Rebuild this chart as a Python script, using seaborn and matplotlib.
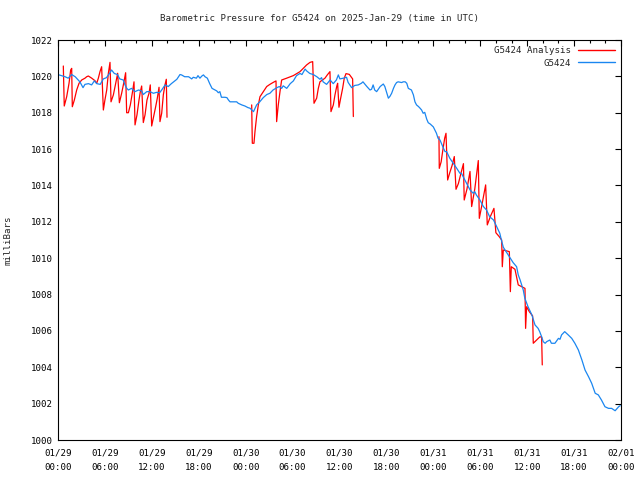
"""
Barometric pressure chart for station G5424 (gnuplot-style look)
"""
import matplotlib
matplotlib.use('Agg')
import matplotlib.pyplot as plt
import matplotlib.dates as mdates
import pandas as pd
import seaborn as sns

START = pd.Timestamp('2025-01-29 00:00')
END = pd.Timestamp('2025-02-01 00:00')

# Station observations: hours since 01/29 00:00 UTC, pressure in mb
obs_hours = [0.13, 0.9, 1.3, 1.75, 2.2, 2.8, 3.2, 3.45, 3.9, 4.3, 4.65, 4.95, 5.4, 5.8,
             6.2, 6.65, 6.85, 7.2, 7.6, 7.9, 8.35, 8.57, 8.8, 9.0, 9.4, 9.85, 10.3, 10.7,
             10.9, 11.35, 11.75, 12.2, 12.6, 13.0, 13.26, 13.7, 14.1, 14.5, 14.96, 15.2,
             15.6, 15.8, 16.2, 16.7, 17.1, 17.3, 17.7, 17.9, 18.15, 18.4, 18.6, 18.8,
             19.1, 19.4, 19.7, 20.1, 20.3, 20.5, 20.7, 20.9, 21.35, 21.6, 21.8, 22.0,
             22.4, 22.85, 23.05, 23.5, 23.9, 24.3, 24.55, 25.0, 25.4, 25.8, 26.25, 26.7,
             27.1, 27.5, 28.0, 28.3, 28.6, 28.8, 29.25, 29.7, 30.1, 30.5, 30.95, 31.2,
             31.6, 31.8, 32.2, 32.65, 33.1, 33.5, 33.7, 33.9, 34.35, 34.8, 35.2, 35.6,
             35.85, 36.05, 36.5, 36.9, 37.1, 37.55, 37.95, 38.4, 38.8, 39.0, 39.5, 39.9,
             40.1, 40.3, 40.5, 40.75, 41.2, 41.6, 41.8, 42.0, 42.25, 42.45, 42.67, 42.9,
             43.1, 43.3, 43.5, 43.95, 44.15, 44.4, 44.6, 44.8, 45.2, 45.45, 45.65, 45.85,
             46.1, 46.3, 46.5, 46.7, 46.9, 47.15, 47.35, 47.6, 47.8, 48.0, 48.2, 48.4,
             48.6, 48.85, 49.3, 49.5, 49.7, 49.9, 50.1, 50.55, 50.98, 51.4, 51.6, 51.8,
             52.25, 52.7, 53.1, 53.3, 53.5, 53.96, 54.4, 54.8, 55.2, 55.7, 56.1, 56.5,
             56.7, 56.95, 57.4, 57.8, 58.2, 58.65, 58.86, 59.1, 59.5, 59.7, 60.1, 60.6,
             60.8, 61.0, 61.4, 61.6, 61.85, 62.05, 62.3, 62.5, 62.9, 63.1, 63.55, 64.0,
             64.2, 64.4, 64.8, 65.25, 65.7, 66.1, 66.55, 67.0, 67.4, 67.85, 68.25, 68.7,
             69.1, 69.5, 69.95, 70.4, 70.8, 71.25, 71.7, 71.9]
obs_mb = [1020.08, 1019.98, 1019.9, 1020.1, 1019.98, 1019.7, 1019.38, 1019.56, 1019.6,
          1019.53, 1019.75, 1019.6, 1019.56, 1019.86, 1019.93, 1020.2, 1020.35, 1020.16,
          1020.1, 1019.86, 1019.8, 1019.53, 1019.34, 1019.25, 1019.34, 1019.16, 1019.25,
          1019.2, 1019.0, 1019.16, 1019.16, 1019.07, 1019.12, 1019.1, 1019.25, 1019.53,
          1019.44, 1019.6, 1019.76, 1019.84, 1020.1, 1020.08, 1019.98, 1019.98, 1019.86,
          1019.95, 1019.9, 1020.04, 1019.9, 1020.02, 1020.08, 1019.98, 1019.9, 1019.6,
          1019.34, 1019.25, 1019.2, 1019.1, 1019.16, 1018.85, 1018.85, 1018.83, 1018.7,
          1018.6, 1018.6, 1018.6, 1018.52, 1018.43, 1018.37, 1018.28, 1018.25, 1018.06,
          1018.43, 1018.6, 1018.83, 1019.0, 1019.07, 1019.25, 1019.38, 1019.44, 1019.34,
          1019.48, 1019.34, 1019.6, 1019.75, 1020.04, 1020.16, 1020.1, 1020.4, 1020.3,
          1020.16, 1020.1, 1019.98, 1019.84, 1019.93, 1019.7, 1019.56, 1019.8, 1019.6,
          1019.8, 1020.08, 1019.86, 1019.9, 1019.95, 1019.67, 1019.38, 1019.5, 1019.53,
          1019.62, 1019.7, 1019.44, 1019.25, 1019.29, 1019.53, 1019.25, 1019.16, 1019.44,
          1019.58, 1019.44, 1019.16, 1018.8, 1018.9, 1019.07, 1019.34, 1019.53, 1019.66,
          1019.7, 1019.66, 1019.7, 1019.7, 1019.62, 1019.34, 1019.25, 1018.98, 1018.6,
          1018.43, 1018.34, 1018.25, 1018.15, 1017.97, 1018.02, 1017.65, 1017.45, 1017.38,
          1017.3, 1017.22, 1017.05, 1016.87, 1016.6, 1016.5, 1016.04, 1015.86, 1015.86,
          1015.68, 1015.5, 1015.22, 1014.95, 1014.67, 1014.67, 1014.49, 1014.12, 1013.75,
          1013.57, 1013.66, 1013.48, 1013.2, 1012.84, 1012.65, 1012.28, 1012.1, 1011.73,
          1011.37, 1011.0, 1010.6, 1010.3, 1010.04, 1009.76, 1009.53, 1009.08, 1008.8,
          1008.25, 1007.8, 1007.34, 1006.88, 1006.6, 1006.33, 1006.14, 1005.96, 1005.68,
          1005.41, 1005.32, 1005.41, 1005.5, 1005.32, 1005.32, 1005.59, 1005.54, 1005.78,
          1005.96, 1005.78, 1005.59, 1005.32, 1004.95, 1004.4, 1003.85, 1003.48, 1003.12,
          1002.57, 1002.48, 1002.2, 1001.83, 1001.74, 1001.74, 1001.61, 1001.83, 1001.89]

# Analysis values, three separate runs
ana1_hours = [0.68, 0.8, 1.11, 1.41, 1.62, 1.75, 1.83, 2.09, 2.39, 2.69, 3.03, 3.45, 3.67,
              3.88, 4.31, 4.73, 4.95, 5.16, 5.37, 5.58, 5.8, 6.0, 6.23, 6.44, 6.65, 6.78,
              7.08, 7.38, 7.63, 7.85, 8.14, 8.4, 8.65, 8.78, 9.0, 9.25, 9.5, 9.72, 9.85,
              10.1, 10.36, 10.53, 10.7, 10.91, 11.13, 11.38, 11.64, 11.8, 11.98, 12.23,
              12.49, 12.7, 12.92, 13.04, 13.26, 13.47, 13.68, 13.85, 13.94]
ana1_mb = [1020.57, 1018.37, 1018.88, 1019.62, 1020.35, 1020.44, 1018.33, 1018.7, 1019.25,
           1019.62, 1019.8, 1019.9, 1019.98, 1020.02, 1019.9, 1019.76, 1019.62, 1019.9,
           1020.26, 1020.53, 1018.15, 1018.7, 1019.25, 1020.17, 1020.77, 1018.6, 1018.98,
           1019.62, 1020.17, 1018.55, 1019.07, 1019.62, 1020.2, 1018.0, 1018.0, 1018.43,
           1019.07, 1019.7, 1017.33, 1017.88, 1018.7, 1019.16, 1019.47, 1017.46, 1017.88,
           1018.7, 1019.07, 1019.53, 1017.27, 1017.79, 1018.33, 1018.8, 1019.4, 1017.51,
           1017.97, 1018.98, 1019.53, 1019.84, 1017.75]

ana2_hours = [24.77, 24.85, 25.06, 25.19, 25.4, 25.62, 25.83, 26.26, 26.69, 27.1, 27.53,
              27.88, 27.96, 28.17, 28.39, 28.6, 29.24, 30.09, 30.95, 31.8, 32.23, 32.57,
              32.74, 33.08, 33.29, 33.5, 34.14, 34.44, 34.78, 34.91, 35.21, 35.42, 35.64,
              35.76, 35.93, 36.15, 36.4, 36.61, 36.83, 37.25, 37.68, 37.77]
ana2_mb = [1018.43, 1016.32, 1016.32, 1016.96, 1017.79, 1018.43, 1018.88, 1019.16, 1019.44,
           1019.56, 1019.67, 1019.75, 1017.51, 1018.43, 1019.16, 1019.8, 1019.9, 1020.04,
           1020.26, 1020.63, 1020.77, 1020.81, 1018.52, 1018.8, 1019.34, 1019.7, 1019.9,
           1020.08, 1020.26, 1018.06, 1018.43, 1018.98, 1019.44, 1019.62, 1018.3, 1018.8,
           1019.34, 1019.9, 1020.15, 1020.11, 1019.86, 1017.79]

ana3_hours = [48.72, 48.76, 49.0, 49.2, 49.45, 49.62, 49.83, 50.1, 50.4, 50.68, 50.9, 51.2,
              51.55, 51.85, 51.95, 52.3, 52.69, 52.9, 53.3, 53.75, 53.88, 54.2, 54.69,
              54.9, 55.3, 55.75, 56.0, 56.4, 56.74, 56.82, 56.95, 57.72, 57.85, 57.97,
              58.44, 58.86, 59.72, 59.8, 59.93, 60.27, 60.7, 60.78, 61.21, 61.64, 61.85,
              61.93]
ana3_mb = [1016.68, 1014.94, 1015.3, 1015.9, 1016.6, 1016.87, 1014.3, 1014.7, 1015.1,
           1015.59, 1013.79, 1014.1, 1014.7, 1015.2, 1013.2, 1013.8, 1014.77, 1012.84,
           1013.8, 1015.37, 1012.19, 1012.9, 1014.03, 1011.83, 1012.3, 1012.74, 1011.4,
           1011.2, 1011.0, 1009.53, 1010.45, 1010.36, 1008.16, 1009.53, 1009.39, 1008.53,
           1008.34, 1006.14, 1007.33, 1007.06, 1006.82, 1005.32, 1005.5, 1005.68, 1005.65,
           1004.13]

ANALYSIS = 'G5424 Analysis'
STATION = 'G5424'


def build_frame():
    """Stack all series into one long table for seaborn."""
    parts = []
    runs = [(ana1_hours, ana1_mb, 'a1'), (ana2_hours, ana2_mb, 'a2'), (ana3_hours, ana3_mb, 'a3')]
    for hours, mb, unit in runs:
        parts.append(pd.DataFrame({'hours': hours, 'mb': mb, 'series': ANALYSIS, 'unit': unit}))
    parts.append(pd.DataFrame({'hours': obs_hours, 'mb': obs_mb, 'series': STATION, 'unit': 'obs'}))
    df = pd.concat(parts, ignore_index=True)
    df['time'] = START + pd.to_timedelta(df['hours'], unit='h')
    return df


def plot_pressure(df):
    sns.set_style('white')
    plt.rcParams['font.family'] = ['DejaVu Sans Mono']
    fs = 6.6

    fig = plt.figure(figsize=(6.4, 4.8), dpi=100)
    ax = fig.add_axes([58 / 640, 40 / 480, 563 / 640, 400 / 480])

    sns.lineplot(
        data=df, x='time', y='mb', hue='series', units='unit',
        estimator=None, sort=False, ax=ax,
        hue_order=[ANALYSIS, STATION],
        palette={ANALYSIS: '#ff0000', STATION: '#1a86f0'},
        linewidth=0.9
    )

    ax.set_xlim(START, END)
    ax.set_ylim(1000, 1022)
    ax.set_yticks(range(1000, 1023, 2))
    ax.xaxis.set_major_locator(mdates.HourLocator(byhour=range(0, 24, 6)))
    ax.xaxis.set_minor_locator(mdates.HourLocator(byhour=range(0, 24, 2)))
    ax.xaxis.set_major_formatter(mdates.DateFormatter('%m/%d\n%H:%M'))

    ax.tick_params(which='both', direction='in', top=True, right=True,
                   labelsize=fs, colors='black', width=0.8)
    ax.tick_params(which='major', length=4.5, pad=4)
    ax.tick_params(axis='x', which='major', pad=6)
    ax.tick_params(which='minor', length=2.3)
    for label in ax.get_xticklabels():
        label.set_linespacing(1.75)
    for spine in ax.spines.values():
        spine.set_visible(True)
        spine.set_color('black')
        spine.set_linewidth(0.8)

    ax.set_xlabel('')
    ax.set_ylabel('milliBars', fontsize=fs, labelpad=13)
    fig.suptitle('Barometric Pressure for G5424 on 2025-Jan-29 (time in UTC)',
                 fontsize=fs, y=0.97)

    leg = ax.legend(loc='upper right', frameon=False, markerfirst=False,
                    fontsize=fs, handlelength=4.0, handletextpad=0.8,
                    labelspacing=0.35, borderaxespad=0.3)
    for line in leg.get_lines():
        line.set_linewidth(1.0)

    fig.savefig('out.png', dpi=100)
    plt.close(fig)


if __name__ == "__main__":
    plot_pressure(build_frame())
